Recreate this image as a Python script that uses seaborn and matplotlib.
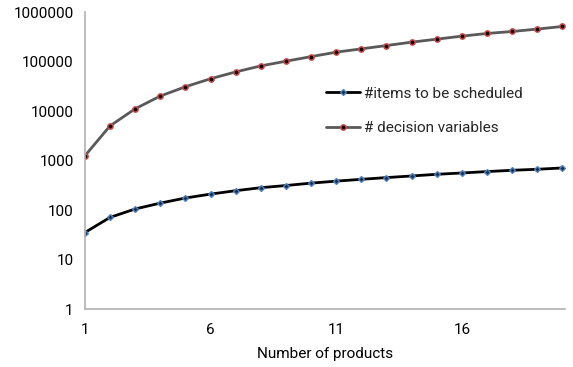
import matplotlib
matplotlib.use("Agg")
import matplotlib.pyplot as plt
import seaborn as sns
import pandas as pd
import numpy as np
from matplotlib.ticker import FixedLocator, FuncFormatter
from matplotlib.lines import Line2D

sns.set_theme(style="white")
plt.rcParams['font.family'] = ['Roboto', 'DejaVu Sans']

products = list(range(1, 21))
items_scheduled = [35, 71, 105, 138, 175, 210, 246, 283, 313, 350, 384, 418, 453,
                   488, 528, 561, 599, 636, 667, 709]
decision_vars = [1240, 5000, 11100, 20100, 31000, 45000, 61800, 81800, 101800, 126000,
                 155000, 181000, 211000, 247000, 284000, 327000, 370000, 406000,
                 454000, 513000]
series_names = ["#items to be scheduled", "# decision variables"]
xticks = [1, 6, 11, 16]
yticks = [1, 10, 100, 1000, 10000, 100000, 1000000]
xlabel = "Number of products"

df = pd.DataFrame({
    "x": products * 2,
    "y": items_scheduled + decision_vars,
    "series": [series_names[0]] * len(products) + [series_names[1]] * len(products),
})

fig = plt.figure(figsize=(5.73, 3.67), dpi=100)
ax = fig.add_axes([0.148, 0.158, 0.838, 0.809])

sns.lineplot(data=df, x="x", y="y", hue="series", style="series",
             palette={series_names[0]: "#000000", series_names[1]: "#595959"},
             markers={series_names[0]: "D", series_names[1]: "o"},
             dashes=False, linewidth=2, ax=ax, legend=False)

m_items = dict(marker="D", markersize=3, markerfacecolor="#1f2d4a",
               markeredgecolor="#4f81bd", markeredgewidth=1.0)
m_dec = dict(marker="o", markersize=3.8, markerfacecolor="#1a0000",
             markeredgecolor="#c0504d", markeredgewidth=1.1)

lines = ax.get_lines()
lines[0].set(**{k: v for k, v in m_items.items() if k != "marker"})
lines[1].set(**{k: v for k, v in m_dec.items() if k != "marker"})

ax.set_yscale("log")
ax.set_ylim(1, 1000000)
ax.set_xlim(1, 20.1)
ax.yaxis.set_major_locator(FixedLocator(yticks))
ax.yaxis.set_major_formatter(FuncFormatter(lambda v, p: f"{int(round(v))}"))
ax.yaxis.set_minor_locator(FixedLocator([]))
ax.set_xticks(xticks)
ax.set_xticklabels([str(t) for t in xticks])

for s in ["top", "right"]:
    ax.spines[s].set_visible(False)
for s in ["left", "bottom"]:
    ax.spines[s].set_color("#b0b0b0")
    ax.spines[s].set_linewidth(1.2)

ax.tick_params(axis="both", which="major", direction="out", length=4, width=1,
               color="#b0b0b0", labelsize=11, labelcolor="#000000", pad=4)
ax.tick_params(axis="x", pad=6)
ax.set_xlabel(xlabel, fontsize=11, labelpad=7, color="#000000")
ax.set_ylabel("")

handles = [
    Line2D([], [], color="#000000", lw=2, **m_items),
    Line2D([], [], color="#595959", lw=2, **m_dec),
]
ax.legend(handles, series_names, loc="upper left", bbox_to_anchor=(0.49, 0.77),
          frameon=False, fontsize=11, handlelength=2.2, handletextpad=0.3,
          labelspacing=1.35, borderaxespad=0)

fig.savefig("out.png", dpi=100)
